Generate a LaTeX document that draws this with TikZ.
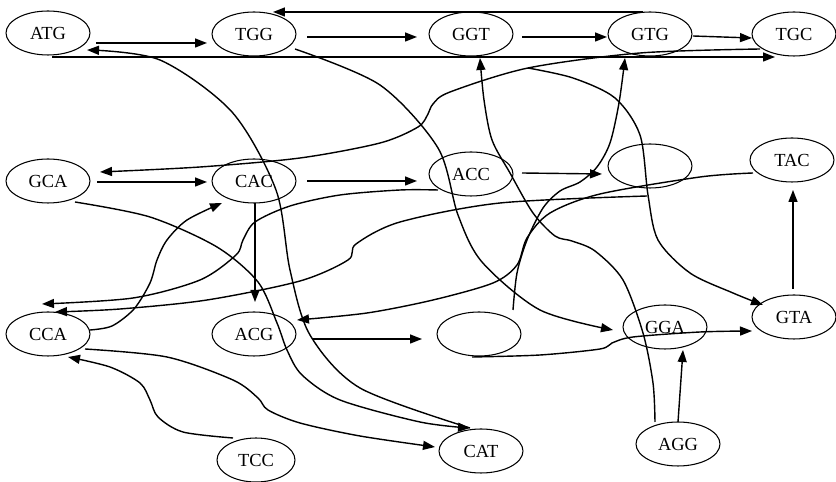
\documentclass[tikz,border=0pt]{standalone}
\usepackage{fontspec}
\setmainfont{Liberation Serif}
\usetikzlibrary{arrows.meta, shapes.geometric, calc}

\begin{document}
\begin{tikzpicture}[x=0.02cm, y=-0.02cm,
    st/.style={ellipse, draw, line width=0.6pt, minimum width=1.68cm,
               minimum height=0.88cm, inner sep=0pt,
               font=\fontsize{10.5}{12}\selectfont},
    arr/.style={line width=0.8pt, -{Triangle[length=0.24cm, width=0.18cm]}}]
  % one unit = one pixel of the 836 x 482 sketch, y grows downwards
  \useasboundingbox (0,0) rectangle (836,482);

  % k-mer nodes, row by row
  \node[st] (ATG) at (48,33)  {ATG};
  \node[st] (TGG) at (254,34) {TGG};
  \node[st] (GGT) at (471,34) {GGT};
  \node[st] (GTG) at (650,34) {GTG};
  \node[st] (TGC) at (794,34) {TGC};

  \node[st] (GCA) at (48,181)  {GCA};
  \node[st] (CAC) at (254,181) {CAC};
  \node[st] (ACC) at (471,174) {ACC};
  \node[st] (EA)  at (650,166) {};
  \node[st] (TAC) at (792,160) {TAC};

  \node[st] (CCA) at (48,334)  {CCA};
  \node[st] (ACG) at (254,334) {ACG};
  \node[st] (EB)  at (479,334) {};
  \node[st] (GGA) at (665,327) {GGA};
  \node[st] (GTA) at (794,317) {GTA};

  \node[st, minimum width=1.56cm] (TCC) at (256,460) {TCC};
  \node[st] (CAT) at (481,451) {CAT};
  \node[st] (AGG) at (678,444) {AGG};

  % free start of the GGT curve
  \coordinate (ggtout) at (528,68);

  % straight edges
  \draw[arr] ($(ATG)+(48,10)$) -- ($(TGG)+(-47,9)$);
  \draw[arr] ($(TGG)+(53,3)$) -- ($(GGT)+(-54,3)$);
  \draw[arr] ($(GGT)+(51,3)$) -- ($(GTG)+(-43,3)$);
  \draw[arr] ($(GTG)+(43,2)$) -- ($(TGC)+(-42,4)$);
  \draw[arr] ($(GTG)+(-7,-22)$) -- ($(TGG)+(19,-22)$);
  \draw[arr] ($(ATG)+(4,24)$) -- ($(TGC)+(-19,23)$);
  \draw[arr] ($(GCA)+(49,1)$) -- ($(CAC)+(-47,1)$);
  \draw[arr] ($(CAC)+(53,0)$) -- ($(ACC)+(-54,7)$);
  \draw[arr] ($(ACC)+(51,-1)$) -- ($(EA)+(-48,8)$);
  \draw[arr] ($(GTA)+(-1,-28)$) -- ($(TAC)+(1,30)$);
  \draw[arr] ($(CAC)+(1,22)$) -- ($(ACG)+(1,-32)$);
  \draw[arr] ($(ACG)+(58,5)$) -- ($(EB)+(-57,5)$);
  \draw[arr] ($(AGG)+(0,-22)$) -- ($(GGA)+(18,23)$);

  % curved edges
  \draw[arr] plot[smooth] coordinates {($(TGC)+(-34,15)$) (640,53) (528,68)
    (450,92) (433,104) (428,114) (418,127) (380,143) (300,158) (200,167)
    ($(GCA)+(52,-9)$)};
  \draw[arr] plot[smooth] coordinates {($(GCA)+(27,21)$) (150,217) (217,247)
    (258,282) (277,323) (287,350) (302,375) (340,400) (420,422)
    ($(CAT)+(-11,-23)$)};
  \draw[arr] plot[smooth] coordinates {($(CAT)+(-11,-23)$) (360,388)
    (310,335) (290,270) (276,190) (232,112) (160,60) ($(ATG)+(39,17)$)};
  \draw[arr] plot[smooth] coordinates {($(CCA)+(37,15)$) (167,357) (233,380)
    (258,398) (268,410) (300,423) (360,436) ($(CAT)+(-46,-4)$)};
  \draw[arr] plot[smooth] coordinates {($(TCC)+(-23,-22)$) (183,432)
    (158,417) (150,400) (140,383) (110,367) ($(CCA)+(20,23)$)};
  \draw[arr] plot[smooth] coordinates {($(CCA)+(42,-4)$) (112,326) (134,309)
    (150,283) (157,260) (167,240) (187,220) ($(CAC)+(-32,22)$)};
  \draw[arr] plot[smooth] coordinates {($(EB)+(-7,23)$) (540,355) (600,349)
    (612,343) (633,337) (700,332) ($(GTA)+(-42,14)$)};
  \draw[arr] plot[smooth] coordinates {($(AGG)+(-23,-22)$) (653,383)
    (643,333) (623,280) (595,251) (572,241) (555,236) (533,213) (510,173)
    (492,140) (484,100) ($(GGT)+(9,24)$)};
  \draw[arr] plot[smooth] coordinates {($(EB)+(34,-24)$) (517,273) (527,240)
    (543,208) (560,191) (580,182) (597,167) (610,143) (619,103)
    ($(GTG)+(-25,24)$)};
  \draw[arr] plot[smooth] coordinates {($(TAC)+(-39,13)$) (700,177)
    (600,194) (550,213) (527,238) (517,265) (493,283) (433,300) (367,313)
    ($(ACG)+(43,-14)$)};
  \draw[arr] plot[smooth] coordinates {($(EA)+(-3,30)$) (500,203) (400,222)
    (356,244) (348,260) (300,281) (207,300) (120,309) ($(CCA)+(7,-22)$)};
  \draw[arr] plot[smooth] coordinates {($(ACC)+(-33,16)$) (400,190)
    (340,195) (290,206) (255,222) (243,240) (236,255) (200,280) (133,298)
    ($(CCA)+(-6,-30)$)};
  \draw[arr] plot[smooth] coordinates {($(TGG)+(41,15)$) (380,85) (438,148)
    (458,215) (482,262) (540,310) ($(GGA)+(-52,3)$)};
  \draw[arr] plot[smooth] coordinates {(ggtout) (573,78) (615,98)
    (640,135) (648,195) (658,240) (690,273) (733,293) ($(GTA)+(-31,-12)$)};
\end{tikzpicture}
\end{document}
